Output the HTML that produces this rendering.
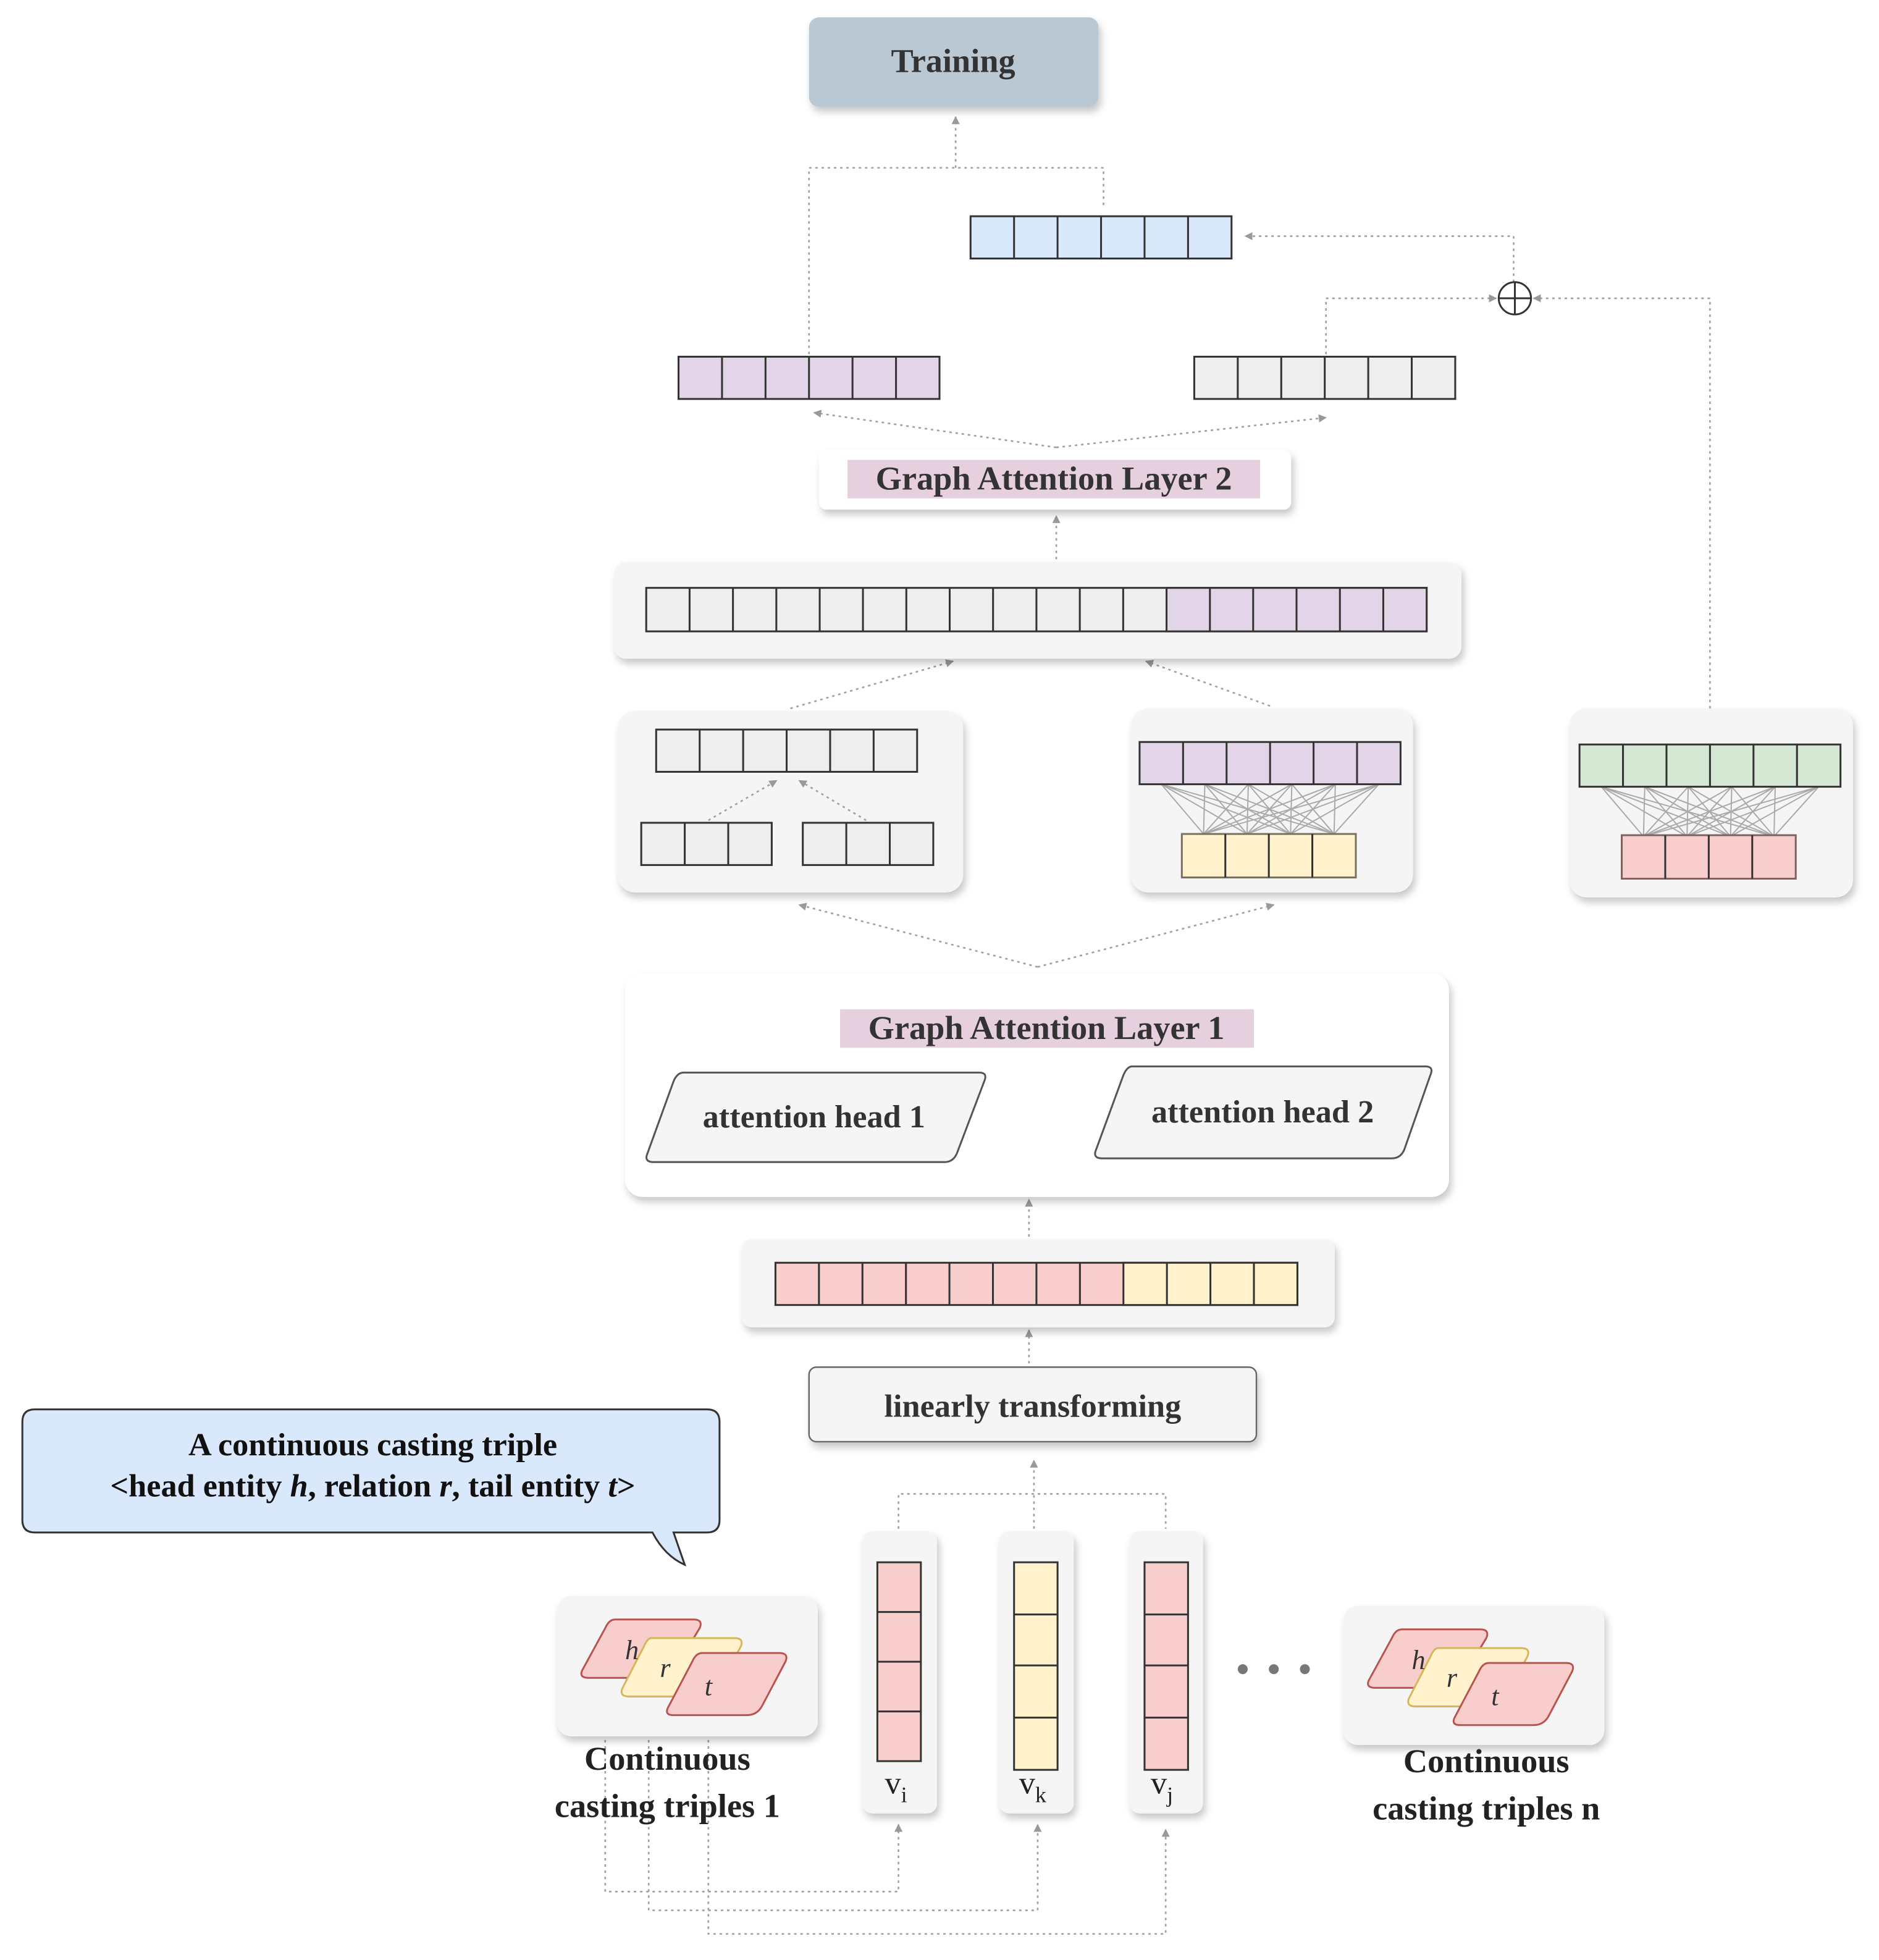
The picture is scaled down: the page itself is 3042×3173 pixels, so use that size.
<!DOCTYPE html>
<html><head><meta charset="utf-8"><style>html,body{margin:0;padding:0;background:#fff}svg{display:block}</style></head>
<body>
<svg width="3042" height="3173" viewBox="0 0 1512 1577" preserveAspectRatio="none" xmlns="http://www.w3.org/2000/svg" font-family="'Liberation Serif',serif">
<defs>
<marker id="a" viewBox="0 0 10 10" refX="9" refY="5" markerWidth="5" markerHeight="5" orient="auto"><path d="M0,0L10,5L0,10z" fill="#999"/></marker>
<filter id="s" x="-10%" y="-10%" width="130%" height="140%"><feDropShadow dx="2" dy="4" stdDeviation="3" flood-color="#000" flood-opacity="0.22"/></filter>
</defs>
<g fill="none" stroke="#a0a0a0" stroke-width="1.3" stroke-dasharray="2 3">
<path d="M651,285V135H888V168"/><path d="M769,135V94" marker-end="url(#a)"/>
<path d="M1218,227V190H1002" marker-end="url(#a)"/>
<path d="M1067,285V240H1204" marker-end="url(#a)"/>
<path d="M1376,570V240H1234" marker-end="url(#a)"/>
<path d="M850,360L655,332" marker-end="url(#a)"/><path d="M850,360L1067,336" marker-end="url(#a)"/>
<path d="M850,450V415" marker-end="url(#a)"/>
<path d="M636,570L767,532" marker-end="url(#a)"/><path d="M1022,568L922,532" marker-end="url(#a)"/>
<path d="M835,778L643,728" marker-end="url(#a)"/><path d="M835,778L1025,728" marker-end="url(#a)"/>
<path d="M828,995V965" marker-end="url(#a)"/>
<path d="M828,1097V1070" marker-end="url(#a)"/>
<path d="M832,1230V1175" marker-end="url(#a)"/>
<path d="M723,1250V1202H938V1230"/>
<path d="M487,1380V1522H723V1468" marker-end="url(#a)"/>
<path d="M522,1365V1537H835V1468" marker-end="url(#a)"/>
<path d="M570,1385V1556H938V1472" marker-end="url(#a)"/>
</g>
<!-- Training -->
<rect x="651" y="14" width="233" height="72" rx="8" fill="#bac8d3" filter="url(#s)"/>
<text x="767" y="58" text-anchor="middle" font-size="27" font-weight="bold" fill="#333">Training</text>
<circle cx="1219" cy="240" r="13" fill="#fff" stroke="#333" stroke-width="1.5"/>
<path d="M1206,240H1232M1219,227V253" stroke="#333" stroke-width="1.5"/>
<!-- containers -->
<g fill="#f5f5f5" filter="url(#s)">
<rect x="494" y="452" width="682" height="78" rx="10"/>
<rect x="497" y="572" width="278" height="146" rx="14"/>
<rect x="910" y="570" width="227" height="148" rx="14"/>
<rect x="1263" y="570" width="228" height="152" rx="14"/>
<rect x="597" y="997" width="477" height="71" rx="8"/>
<rect x="448" y="1284" width="210" height="113" rx="12"/>
<rect x="1081" y="1292" width="210" height="112" rx="12"/>
<rect x="694" y="1232" width="60" height="227" rx="8"/>
<rect x="804" y="1232" width="60" height="227" rx="8"/>
<rect x="909" y="1232" width="59" height="227" rx="8"/>
</g>
<g fill="#fff" filter="url(#s)">
<rect x="659" y="362" width="380" height="48" rx="6"/>
<rect x="503" y="783" width="663" height="180" rx="14"/>
</g>
<rect x="651" y="1100" width="360" height="60" rx="6" fill="#f5f5f5" stroke="#666" stroke-width="1.2" filter="url(#s)"/>
<!-- vectors -->
<g stroke="#333" stroke-width="1.5">
<rect x="781" y="174" width="210" height="34" fill="#dae8fc"/><path d="M816,174v34M851,174v34M886,174v34M921,174v34M956,174v34"/>
<rect x="546" y="287" width="210" height="34" fill="#e1d5e7"/><path d="M581,287v34M616,287v34M651,287v34M686,287v34M721,287v34"/>
<rect x="961" y="287" width="210" height="34" fill="#eeeeee"/><path d="M996,287v34M1031,287v34M1066,287v34M1101,287v34M1136,287v34"/>
<rect x="520" y="473" width="628" height="35" fill="#eeeeee"/><rect x="938.7" y="473" width="209.3" height="35" fill="#e1d5e7"/>
<path d="M554.9,473v35M589.8,473v35M624.7,473v35M659.6,473v35M694.4,473v35M729.3,473v35M764.2,473v35M799.1,473v35M834,473v35M868.9,473v35M903.8,473v35M973.6,473v35M1008.4,473v35M1043.3,473v35M1078.2,473v35M1113.1,473v35"/>
<rect x="528" y="587" width="210" height="34" fill="#eeeeee"/><path d="M563,587v34M598,587v34M633,587v34M668,587v34M703,587v34"/>
<rect x="516" y="662" width="105" height="34" fill="#eeeeee"/><path d="M551,662v34M586,662v34"/>
<rect x="646" y="662" width="105" height="34" fill="#eeeeee"/><path d="M681,662v34M716,662v34"/>
</g>
<g fill="none" stroke="#a0a0a0" stroke-width="1.3" stroke-dasharray="2 3">
<path d="M570,660L625,628" marker-end="url(#a)"/><path d="M697,660L643,628" marker-end="url(#a)"/>
</g>
<g id="fc" stroke="#aaa" stroke-width="1">
<path d="M934.5,631L968.5,671M934.5,631L1003.5,671M934.5,631L1038.5,671M934.5,631L1073.5,671M969.5,631L968.5,671M969.5,631L1003.5,671M969.5,631L1038.5,671M969.5,631L1073.5,671M1004.5,631L968.5,671M1004.5,631L1003.5,671M1004.5,631L1038.5,671M1004.5,631L1073.5,671M1039.5,631L968.5,671M1039.5,631L1003.5,671M1039.5,631L1038.5,671M1039.5,631L1073.5,671M1074.5,631L968.5,671M1074.5,631L1003.5,671M1074.5,631L1038.5,671M1074.5,631L1073.5,671M1109.5,631L968.5,671M1109.5,631L1003.5,671M1109.5,631L1038.5,671M1109.5,631L1073.5,671"/>
</g>
<use href="#fc" transform="translate(354,2)"/>
<g stroke="#333" stroke-width="1.5">
<rect x="917" y="597" width="210" height="34" fill="#e1d5e7"/><path d="M952,597v34M987,597v34M1022,597v34M1057,597v34M1092,597v34"/>
<rect x="951" y="671" width="140" height="35" fill="#fff2cc" stroke="#7a7060"/><path d="M986,671v35M1021,671v35M1056,671v35"/>
<rect x="1271" y="599" width="210" height="34" fill="#d5e8d4"/><path d="M1306,599v34M1341,599v34M1376,599v34M1411,599v34M1446,599v34"/>
<rect x="1305" y="672" width="140" height="35" fill="#f8cecc" stroke="#806060"/><path d="M1340,672v35M1375,672v35M1410,672v35"/>
<rect x="624" y="1016" width="420" height="34" fill="#f8cecc"/><rect x="904" y="1016" width="140" height="34" fill="#fff2cc"/>
<path d="M659,1016v34M694,1016v34M729,1016v34M764,1016v34M799,1016v34M834,1016v34M869,1016v34M939,1016v34M974,1016v34M1009,1016v34"/>
<rect x="706" y="1257" width="35" height="160" fill="#f8cecc"/><path d="M706,1297h35M706,1337h35M706,1377h35"/>
<rect x="816" y="1257" width="35" height="167" fill="#fff2cc"/><path d="M816,1299h35M816,1340h35M816,1382h35"/>
<rect x="921" y="1257" width="35" height="167" fill="#f8cecc"/><path d="M921,1299h35M921,1340h35M921,1382h35"/>
</g>
<!-- text -->
<rect x="682" y="370" width="332" height="31" fill="#e6d0de"/>
<text x="848" y="394" text-anchor="middle" font-size="27" font-weight="bold" fill="#333">Graph Attention Layer 2</text>
<rect x="676" y="812" width="333" height="31" fill="#e6d0de"/>
<text x="842" y="836" text-anchor="middle" font-size="27" font-weight="bold" fill="#333">Graph Attention Layer 1</text>
<g fill="#f5f5f5" stroke="#555" stroke-width="1.5" stroke-linejoin="round">
<path d="M550,863H788Q795,863 792,870L770,928Q767,935 760,935H526Q518,935 521,928L542,870Q545,863 550,863z"/>
<path d="M911,858H1147Q1154,858 1151,865L1130,925Q1127,932 1120,932H887Q879,932 882,925L904,865Q907,858 911,858z"/>
</g>
<text x="655" y="907" text-anchor="middle" font-size="26" font-weight="bold" fill="#333">attention head 1</text>
<text x="1016" y="903" text-anchor="middle" font-size="26" font-weight="bold" fill="#333">attention head 2</text>
<text x="831" y="1140" text-anchor="middle" font-size="26" font-weight="bold" fill="#333">linearly transforming</text>
<!-- callout -->
<path d="M28,1134H569Q579,1134 579,1144V1223Q579,1233 569,1233H542L551,1259Q535,1252 525,1233H28Q18,1233 18,1223V1144Q18,1134 28,1134z" fill="#dae8fc" stroke="#333" stroke-width="1.5"/>
<text x="300" y="1171" text-anchor="middle" font-size="26" font-weight="bold" fill="#111">A continuous casting triple</text>
<text x="300" y="1204" text-anchor="middle" font-size="26" font-weight="bold" fill="#111">&lt;head entity <tspan font-style="italic">h</tspan>,  relation <tspan font-style="italic">r</tspan>,  tail entity <tspan font-style="italic">t</tspan>&gt;</text>
<!-- triples -->
<g id="tr" stroke-width="1.5" font-style="italic" font-size="22">
<path d="M495,1303H558Q566,1303 563,1310L543,1343Q539,1350 531,1350H474Q465,1350 469,1343L487,1310Q490,1303 495,1303z" fill="#f8cecc" stroke="#b85450"/>
<path d="M524,1318H591Q599,1318 596,1325L578,1358Q574,1365 566,1365H506Q498,1365 501,1358L518,1325Q521,1318 524,1318z" fill="#fff2cc" stroke="#d6b656"/>
<path d="M565,1330H627Q635,1330 632,1337L613,1373Q609,1380 601,1380H542Q534,1380 538,1373L557,1337Q560,1330 565,1330z" fill="#f8cecc" stroke="#b85450"/>
<text x="503" y="1335" fill="#333" stroke="none">h</text>
<text x="531" y="1349" fill="#333" stroke="none">r</text>
<text x="567" y="1364" fill="#333" stroke="none">t</text>
</g>
<use href="#tr" transform="translate(633,8)"/>
<g font-size="27" font-weight="bold" fill="#222" text-anchor="middle">
<text x="537" y="1424">Continuous</text><text x="537" y="1462">casting triples 1</text>
<text x="1196" y="1426">Continuous</text><text x="1196" y="1464">casting triples n</text>
</g>
<g font-size="26" fill="#222">
<text x="712" y="1443">v<tspan font-size="18" dy="7">i</tspan></text>
<text x="820" y="1443">v<tspan font-size="18" dy="7">k</tspan></text>
<text x="926" y="1443">v<tspan font-size="18" dy="7">j</tspan></text>
</g>
<g fill="#777"><circle cx="1000" cy="1343" r="4"/><circle cx="1025" cy="1343" r="4"/><circle cx="1050" cy="1343" r="4"/></g>
</svg>
</body></html>
